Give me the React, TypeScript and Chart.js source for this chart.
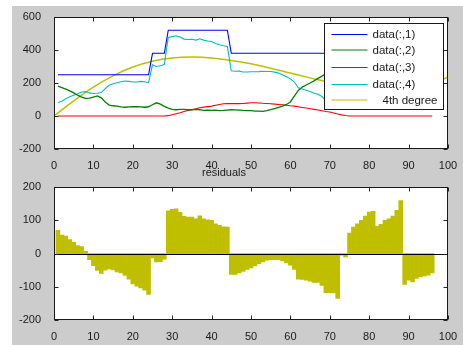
import React, { useEffect, useRef } from 'react';
import { Chart, registerables } from 'chart.js';

Chart.register(...registerables);

const FONT = '"Liberation Sans", Arial, Helvetica, sans-serif';
const TEXT = '#1a1a1a';

// x tick labels and y tick values
const xTicks = [0, 10, 20, 30, 40, 50, 60, 70, 80, 90, 100];
const topYTicks = [-200, 0, 200, 400, 600];
const bottomYTicks = [-200, -100, 0, 100, 200];

// data(:,1) .. data(:,4), sampled at x = 1..96
const data1 = [
  250, 250, 250, 250, 250, 250, 250, 250, 250, 250, 250, 250,
  250, 250, 250, 250, 250, 250, 250, 250, 250, 250, 250, 250,
  380, 380, 380, 380, 520, 520, 520, 520, 520, 520, 520, 520,
  520, 520, 520, 520, 520, 520, 520, 520, 380, 380, 380, 380,
  380, 380, 380, 380, 380, 380, 380, 380, 380, 380, 380, 380,
  380, 380, 380, 380, 380, 380, 380, 380, 380, 380, 380, 380,
  380, 380, 380, 380, 380, 380, 380, 380, 380, 380, 380, 380,
  380, 380, 380, 380, 380, 380, 380, 380, 380, 380, 380, 380,
];
const data2 = [
  181, 172, 163, 152, 140, 126, 115, 107, 108, 115, 122, 110,
  85, 66, 62, 60, 55, 53, 55, 56, 56, 55, 53, 56,
  68, 80, 72, 58, 48, 40, 38, 40, 40, 38, 38, 40,
  38, 34, 35, 34, 35, 33, 34, 36, 38, 37, 36, 34,
  33, 32, 30, 29, 28, 32, 38, 45, 52, 60, 70, 85,
  120, 155, 175, 188, 200, 213, 228, 242, 255, 268, 280, 292,
  300, 305, 310, 312, 312, 310, 306, 300, 295, 290, 285, 280,
  276, 272, 268, 265, 262, 260, 258, 256, 255, 254, 253, 252,
];
const data3 = [
  0, 0, 0, 0, 0, 0, 0, 0, 0, 0, 0, 0,
  0, 0, 0, 0, 0, 0, 0, 0, 0, 0, 0, 0,
  0, 0, 0, 0, 2, 8, 14, 20, 27, 33, 38, 44,
  50, 54, 57, 60, 65, 70, 74, 75, 75, 75, 75, 76,
  78, 80, 80, 79, 77, 76, 74, 72, 70, 68, 65, 62,
  60, 56, 52, 48, 44, 40, 36, 32, 27, 24, 18, 12,
  7, 3, 0, 0, 0, 0, 0, 0, 0, 0, 0, 0,
  0, 0, 0, 0, 0, 0, 0, 0, 0, 0, 0, 0,
];
const data4 = [
  82, 90, 105, 116, 126, 135, 145, 148, 140, 136, 138, 142,
  166, 186, 196, 202, 208, 212, 210, 206, 206, 210, 208, 202,
  310, 300, 305, 312, 476, 481, 486, 478, 466, 464, 465, 460,
  468, 460, 455, 452, 439, 432, 426, 421, 274, 271, 272, 267,
  267, 268, 268, 269, 271, 270, 270, 266, 260, 250, 238, 225,
  206, 171, 164, 156, 148, 138, 132, 118, 92, 85, 80, 58,
  184, 174, 242, 257, 264, 271, 281, 290, 290, 245, 249, 260,
  264, 272, 290, 321, 69, 87, 84, 97, 106, 113, 120, 132,
];

// 4th degree fit, read at x = 0, 5, ..., 100
const fitX = [0, 5, 10, 15, 20, 25, 30, 35, 40, 45, 50, 55, 60, 65, 70, 75, 80, 85, 90, 95, 100];
const fitY = [0, 92, 175, 243, 297, 332, 351, 357, 352, 337, 316, 290, 260, 231, 203, 180, 165, 159, 167, 191, 235];

// residuals at x = 1..96
const residuals = [
  70, 56, 53, 42, 34, 24, 21, 7, -18, -36, -51, -60,
  -50, -46, -49, -55, -58, -66, -77, -91, -98, -103, -110, -123,
  -13, -25, -24, -17, 129, 133, 135, 124, 112, 110, 110, 105,
  114, 105, 102, 100, 90, 85, 81, 80, -63, -63, -58, -54,
  -48, -43, -37, -30, -25, -20, -18, -18, -18, -22, -28, -35,
  -48, -77, -78, -80, -83, -87, -87, -96, -118, -118, -118, -135,
  -5, -10, 62, 80, 90, 100, 113, 125, 127, 83, 88, 100,
  105, 113, 130, 160, -93, -80, -85, -75, -70, -67, -65, -58,
];

const seriesLabels = ['data(:,1)', 'data(:,2)', 'data(:,3)', 'data(:,4)', '4th degree'];
const seriesColors = ['#0000ff', '#008000', '#ff0000', '#00bfbf', '#bfbf00'];
const seriesWidths = [1.1, 1.3, 1.1, 1.1, 1.5];
const residualColor = '#bfbf00';

const toPoints = (arr: number[]) => arr.map((y, i) => ({ x: i + 1, y }));

const matlabPlugin = {
  id: 'matlab',
  afterDatasetsDraw(chart: any, _args: any, opts: any) {
    if (!opts || !opts.zeroLine) return;
    const { ctx, chartArea: ca, scales } = chart;
    const y = Math.round(scales.y.getPixelForValue(0)) + 0.5;
    ctx.save();
    ctx.strokeStyle = '#000';
    ctx.lineWidth = 1;
    ctx.beginPath();
    ctx.moveTo(ca.left, y);
    ctx.lineTo(ca.right, y);
    ctx.stroke();
    ctx.restore();
  },
  afterDraw(chart: any, _args: any, opts: any) {
    const { ctx, chartArea: ca, scales } = chart;
    ctx.save();
    ctx.strokeStyle = '#262626';
    ctx.lineWidth = 1;
    const L = Math.round(ca.left) + 0.5;
    const R = Math.round(ca.right) - 0.5;
    const T = Math.round(ca.top) + 0.5;
    const B = Math.round(ca.bottom) - 0.5;
    const len = 4;
    ctx.beginPath();
    scales.x.ticks.forEach((t: any) => {
      const x = Math.round(scales.x.getPixelForValue(t.value)) + 0.5;
      ctx.moveTo(x, B); ctx.lineTo(x, B - len);
      ctx.moveTo(x, T); ctx.lineTo(x, T + len);
    });
    scales.y.ticks.forEach((t: any) => {
      const y = Math.round(scales.y.getPixelForValue(t.value)) + 0.5;
      ctx.moveTo(L, y); ctx.lineTo(L + len, y);
      ctx.moveTo(R, y); ctx.lineTo(R - len, y);
    });
    ctx.stroke();
    ctx.strokeStyle = '#1a1a1a';
    ctx.strokeRect(L, T, R - L, B - T);

    if (opts && opts.legend) {
      const w = 119, h = 86;
      const bx = Math.round(ca.right - 5 - w) + 0.5;
      const by = Math.round(ca.top + 6) + 0.5;
      ctx.fillStyle = '#ffffff';
      ctx.fillRect(bx, by, w, h);
      ctx.strokeStyle = '#1a1a1a';
      ctx.strokeRect(bx, by, w, h);
      ctx.font = `11.5px ${FONT}`;
      ctx.textBaseline = 'middle';
      ctx.textAlign = 'left';
      chart.data.datasets.forEach((ds: any, i: number) => {
        const cy = Math.round(by + 10 + i * 16.7) + (i === 1 || i === 4 ? 0 : 0.5);
        ctx.strokeStyle = ds.borderColor;
        ctx.lineWidth = 1;
        ctx.beginPath();
        ctx.moveTo(bx + 7, cy);
        ctx.lineTo(bx + 43, cy);
        ctx.stroke();
        ctx.fillStyle = TEXT;
        ctx.fillText(ds.label, bx + 48 + (i === 4 ? 10 : 0), cy + 0.5);
      });
    }
    ctx.restore();
  },
};

const tickFont = { size: 11, family: FONT };

function TopChart() {
  const ref = useRef<HTMLCanvasElement>(null);
  useEffect(() => {
    const series = [data1, data2, data3, data4];
    const datasets: any[] = series.map((s, i) => ({
      label: seriesLabels[i],
      data: toPoints(s),
      borderColor: seriesColors[i],
      borderWidth: seriesWidths[i],
      pointRadius: 0,
      tension: 0,
      fill: false,
    }));
    datasets.push({
      label: seriesLabels[4],
      data: fitX.map((x, i) => ({ x, y: fitY[i] })),
      borderColor: seriesColors[4],
      borderWidth: seriesWidths[4],
      pointRadius: 0,
      tension: 0.4,
      fill: false,
    });
    const chart = new Chart(ref.current!, {
      type: 'line',
      data: { datasets },
      plugins: [matlabPlugin],
      options: {
        animation: false,
        responsive: false,
        layout: { padding: { left: 0, right: 15, top: 17, bottom: 0 } },
        plugins: {
          legend: { display: false },
          tooltip: { enabled: false },
          matlab: { legend: true },
        } as any,
        scales: {
          x: {
            type: 'linear',
            min: 0,
            max: 100,
            afterBuildTicks: (s: any) => { s.ticks = xTicks.map((v) => ({ value: v })); },
            ticks: { color: TEXT, font: tickFont, padding: 2, maxRotation: 0, autoSkip: false },
            grid: { display: false },
            border: { display: false },
            afterFit: (s: any) => { s.height = 21; },
          },
          y: {
            type: 'linear',
            min: -200,
            max: 600,
            afterBuildTicks: (s: any) => { s.ticks = topYTicks.map((v) => ({ value: v })); },
            ticks: { color: TEXT, font: tickFont, padding: 5 },
            grid: { display: false },
            border: { display: false },
            afterFit: (s: any) => { s.width = 54; },
          },
        },
      },
    });
    return () => chart.destroy();
  }, []);
  return (
    <canvas
      ref={ref}
      width={463}
      height={170}
      style={{ position: 'absolute', left: 0, top: 0, width: 463, height: 170 }}
    />
  );
}

function BottomChart() {
  const ref = useRef<HTMLCanvasElement>(null);
  useEffect(() => {
    const chart = new Chart(ref.current!, {
      type: 'bar',
      data: {
        datasets: [
          {
            label: 'residuals',
            data: toPoints(residuals),
            backgroundColor: residualColor,
            borderWidth: 0,
            barPercentage: 1,
            categoryPercentage: 1,
          } as any,
        ],
      },
      plugins: [matlabPlugin],
      options: {
        animation: false,
        responsive: false,
        layout: { padding: { left: 0, right: 15, top: 0, bottom: 0 } },
        plugins: {
          legend: { display: false },
          tooltip: { enabled: false },
          title: {
            display: true,
            text: 'residuals',
            color: TEXT,
            font: { size: 11, family: FONT, weight: 'normal' },
            padding: { top: 3, bottom: 8 },
          },
          matlab: { zeroLine: true },
        } as any,
        scales: {
          x: {
            type: 'linear',
            min: 0,
            max: 100,
            offset: false,
            afterBuildTicks: (s: any) => { s.ticks = xTicks.map((v) => ({ value: v })); },
            ticks: { color: TEXT, font: tickFont, padding: 2, maxRotation: 0, autoSkip: false },
            grid: { display: false },
            border: { display: false },
            afterFit: (s: any) => { s.height = 25; },
          },
          y: {
            type: 'linear',
            min: -200,
            max: 200,
            afterBuildTicks: (s: any) => { s.ticks = bottomYTicks.map((v) => ({ value: v })); },
            ticks: { color: TEXT, font: tickFont, padding: 5 },
            grid: { display: false },
            border: { display: false },
            afterFit: (s: any) => { s.width = 54; },
          },
        },
      },
    });
    return () => chart.destroy();
  }, []);
  return (
    <canvas
      ref={ref}
      width={463}
      height={182}
      style={{ position: 'absolute', left: 0, top: 163, width: 463, height: 182 }}
    />
  );
}

export default function App() {
  return (
    <div
      style={{
        position: 'fixed',
        left: 0,
        top: 0,
        width: 463,
        height: 345,
        background: '#ffffff',
        overflow: 'hidden',
      }}
    >
      <div
        style={{
          position: 'absolute',
          left: 12,
          top: 6,
          width: 451,
          height: 339,
          background: '#cccccc',
        }}
      />
      <div
        style={{
          position: 'absolute',
          left: 54,
          top: 17,
          width: 394,
          height: 132,
          background: '#ffffff',
        }}
      />
      <div
        style={{
          position: 'absolute',
          left: 54,
          top: 187,
          width: 394,
          height: 133,
          background: '#ffffff',
        }}
      />
      <TopChart />
      <BottomChart />
    </div>
  );
}
